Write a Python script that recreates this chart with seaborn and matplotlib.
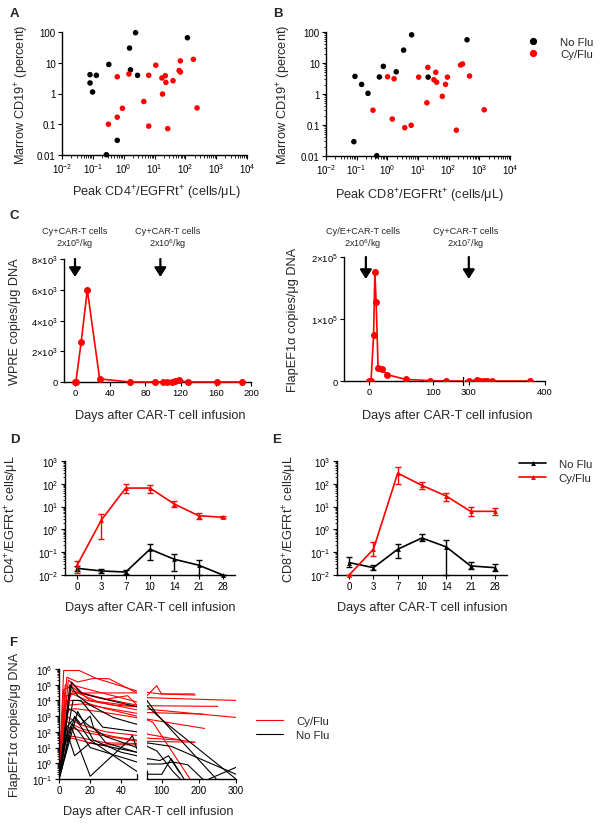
import matplotlib
matplotlib.use("Agg")
import matplotlib.pyplot as plt
from matplotlib.ticker import LogLocator, FuncFormatter, NullFormatter, FixedLocator, NullLocator
from matplotlib.lines import Line2D
import numpy as np
import pandas as pd
import seaborn as sns

sns.set_theme(style="ticks")
plt.rcParams['font.family'] = ['Liberation Sans', 'DejaVu Sans']
plt.rcParams['mathtext.default'] = 'regular'

RED = '#ff0000'
BLK = '#000000'
PAL = {'No Flu': BLK, 'Cy/Flu': RED}

# ---- panel A: peak CD4+/EGFRt+ vs marrow CD19+
a_noflu_x = [0.081, 0.081, 0.098, 0.13, 0.33, 0.62, 0.275, 1.55, 1.66, 2.43, 2.82, 117]
a_noflu_y = [4.1, 2.2, 1.12, 3.9, 8.8, 0.030, 0.0102, 30, 5.9, 95, 3.9, 65]
a_cyflu_x = [0.62, 0.32, 0.62, 0.91, 1.48, 4.5, 6.5, 6.5, 11, 17.4, 18.2, 22.4, 23.4, 26.9, 39.8, 63, 69, 69, 182, 240]
a_cyflu_y = [3.5, 0.1, 0.17, 0.33, 4.3, 0.55, 0.087, 3.9, 8.3, 3.2, 0.96, 3.8, 2.3, 0.072, 2.6, 5.6, 5.0, 11.5, 12.9, 0.34]

# ---- panel B: peak CD8+/EGFRt+ vs marrow CD19+
b_noflu_x = [0.088, 0.145, 0.234, 0.081, 0.45, 0.55, 0.74, 1.95, 3.4, 6.2, 21.4, 398]
b_noflu_y = [3.7, 2.04, 1.05, 0.029, 0.0102, 3.55, 7.8, 5.2, 26, 81, 3.5, 56]
b_cyflu_x = [0.34, 1.02, 1.66, 1.45, 3.7, 6.0, 10.5, 20.9, 19.5, 38, 33, 40.7, 62, 79, 91, 178, 245, 282, 479, 1445]
b_cyflu_y = [0.30, 3.6, 3.1, 0.156, 0.082, 0.098, 3.5, 7.2, 0.52, 5.0, 2.9, 2.4, 0.84, 2.04, 3.5, 0.068, 8.6, 9.3, 3.8, 0.31]

# ---- panel C: single patient kinetics
c1_days = [0, 1, 7, 14, 28, 63, 91, 100, 105, 110, 114, 118, 128, 161, 190]
c1_wpre = [0, 0, 2600, 6000, 200, 0, 0, 0, 0, 0, 50, 100, 0, 0, 0]
c2_days = [0, 3, 7, 9, 11, 14, 20, 28, 57, 95, 119, 300, 311, 315, 320, 324, 330, 380]
c2_flap = [0, 0, 74000, 176000, 127000, 21000, 19400, 10200, 2700, 500, 0, 0, 2000, 0, 0, 0, 0, 0]

# ---- panels D/E: mean with error range
de_days = ['0', '3', '7', '10', '14', '21', '28']
d_cy_mean = [0.027, 2.6, 65, 65, 13, 4.0, 3.4]
d_cy_lo = [0.0126, 0.37, 40, 40, 10, 2.9, 3.1]
d_cy_hi = [0.042, 4.8, 94, 92, 17, 5.2, 3.7]
d_no_mean = [0.0196, 0.015, 0.0135, 0.135, 0.049, 0.027, 0.01]
d_no_lo = [0.015, 0.0117, 0.0107, 0.046, 0.015, 0.01, 0.01]
d_no_hi = [0.025, 0.019, 0.0165, 0.22, 0.087, 0.045, 0.01]
e_cy_mean = [0.01, 0.135, 295, 85, 29, 6.2, 6.2]
e_cy_lo = [0.01, 0.069, 100, 60, 18, 4.0, 4.2]
e_cy_hi = [0.01, 0.27, 550, 118, 40, 9.3, 9.0]
e_no_mean = [0.035, 0.021, 0.135, 0.42, 0.17, 0.025, 0.021]
e_no_lo = [0.022, 0.016, 0.057, 0.30, 0.01, 0.019, 0.015]
e_no_hi = [0.062, 0.027, 0.24, 0.62, 0.34, 0.037, 0.03]

# ---- panel F: per-patient FlapEF1a kinetics (days, copies)
f_cyflu = [
    ([0, 3, 13, 24, 50, 60, 95, 190], [0.1, 8e5, 8e5, 2.5e5, 4e4, 3.3e4, 2.6e4, 2.2e4]),
    ([0, 5, 12, 22, 32, 50, 60, 300], [0.1, 3e5, 1.5e5, 2.5e5, 2.4e5, 3e4, 1.5e4, 1.0e4]),
    ([0, 6, 15, 30, 44, 50, 60, 86, 99, 188], [0.1, 2e5, 3e4, 1.2e4, 2e4, 5e3, 2e4, 8.7e4, 2.6e4, 2.6e4]),
    ([0, 4, 10, 20, 50], [0.1, 1e5, 3e4, 3e4, 3e4]),
    ([0, 3, 8, 20, 50, 60, 251], [0.1, 5e4, 8e4, 1e4, 4e3, 4.6e3, 4.2e3]),
    ([0, 5, 12, 25, 50, 60, 300], [0.1, 2e4, 3e4, 8e3, 2.5e3, 2.8e3, 830]),
    ([0, 7, 18, 35, 50, 60, 211], [0.1, 3e4, 1e4, 5e3, 4e3, 1.7e3, 1.35e3]),
    ([0, 4, 12, 30, 50, 60, 215], [0.1, 1e4, 1e4, 3e3, 1e3, 650, 165]),
    ([0, 6, 15, 50], [0.1, 5e3, 6e3, 1.5e3]),
    ([0, 3, 10, 25, 50, 60, 188], [0.1, 2e3, 3e3, 2e3, 800, 72, 21]),
    ([0, 5, 13, 30, 50, 60, 150], [0.1, 1e3, 300, 100, 60, 40, 30]),
    ([0, 4, 15, 35, 50, 60, 76, 176], [0.1, 500, 150, 50, 30, 600, 400, 0.1]),
    ([0, 6, 20, 50, 60, 190], [0.1, 200, 80, 25, 25, 22]),
    ([0, 3, 10, 30, 50], [0.1, 60, 50, 20, 18]),
    ([0, 2, 8, 25, 50], [0.1, 20, 40, 15, 15]),
    ([0, 3, 9, 20, 50], [0.1, 3e3, 4e4, 2e4, 5e3]),
    ([0, 8, 16, 50], [0.1, 1e5, 6e4, 8e3]),
]
f_noflu = [
    ([0, 8, 14, 25, 50, 60, 100, 300], [0.1, 1.5e5, 3e4, 1.5e4, 4e3, 4.6e3, 600, 0.1]),
    ([0, 7, 12, 20, 35, 50, 60, 87, 247], [0.1, 1e5, 2e4, 5e3, 800, 300, 1e4, 1.3e3, 0.1]),
    ([0, 6, 10, 18, 30, 50, 60, 87, 130, 150], [0.1, 3e3, 2e3, 300, 50, 10, 12, 6, 0.3, 0.1]),
    ([0, 10, 14, 20, 22, 30, 50], [0.1, 1e3, 300, 1e3, 200, 20, 5]),
    ([0, 5, 10, 20, 50, 60, 95, 118, 148], [0.1, 200, 800, 30, 0.3, 2, 1.5, 3, 0.25]),
    ([0, 4, 8, 13, 20, 50, 60, 125, 300], [0.1, 30, 300, 100, 10, 1.2, 20, 12, 0.2]),
    ([0, 3, 8, 20, 45, 47, 50], [0.1, 10, 200, 0.15, 30, 60, 8]),
    ([0, 2, 6, 10, 20, 50, 60, 100, 130, 170, 210], [0.1, 0.5, 50, 3, 20, 5, 0.9, 0.9, 1.2, 0.8, 0.1]),
    ([0, 9, 14, 28, 50], [0.1, 1e4, 1e4, 200, 100]),
    ([0, 12, 22, 40, 50, 62, 100, 125, 160], [0.1, 2e3, 30, 5, 3, 0.2, 0.2, 2, 0.1]),
    ([227, 300], [0.1, 0.55]),
]

W, H = 601, 828
fig = plt.figure(figsize=(W / 100, H / 100), dpi=100)


def add_ax(l, t, r, b):
    return fig.add_axes([l / W, 1 - b / H, (r - l) / W, (b - t) / H])


def style(ax, left=True):
    for s in ['top', 'right']:
        ax.spines[s].set_visible(False)
    for s in ['left', 'bottom']:
        ax.spines[s].set_color('black')
        ax.spines[s].set_linewidth(1.0)
    ax.spines['left'].set_visible(left)
    ax.tick_params(which='major', direction='out', length=3, width=0.8, color='black',
                   labelsize=7, pad=1.5, labelcolor='black')
    ax.tick_params(which='minor', direction='out', length=1.8, width=0.6, color='black')
    ax.set_facecolor('white')
    ax.grid(False)


def pow10(v, p):
    return '$10^{%d}$' % int(round(np.log10(v)))


def log_axis(axis, lo, hi, minor=True):
    axis.set_major_locator(FixedLocator([10.0 ** k for k in range(lo, hi + 1)]))
    axis.set_major_formatter(FuncFormatter(pow10))
    if minor:
        axis.set_minor_locator(LogLocator(base=10, subs=np.arange(2, 10), numticks=100))
    else:
        axis.set_minor_locator(NullLocator())
    axis.set_minor_formatter(NullFormatter())


def letter(x, y, s):
    fig.text(x / W, 1 - y / H, s, fontsize=9.5, fontweight='bold', ha='left', va='center')


LBL = 9.2
LEG = 8.2

# ---------------- A and B
for key, box, xs, ys, xl, ylx, xly in [
    ('A', (62, 33, 247, 156), (a_noflu_x, a_cyflu_x), (a_noflu_y, a_cyflu_y),
     'Peak CD4$^{+}$/EGFRt$^{+}$ (cells/μL)', -0.168, -0.228),
    ('B', (326, 33, 510, 157), (b_noflu_x, b_cyflu_x), (b_noflu_y, b_cyflu_y),
     'Peak CD8$^{+}$/EGFRt$^{+}$ (cells/μL)', -0.18, -0.242),
]:
    ax = add_ax(*box)
    style(ax)
    df = pd.DataFrame({
        'x': list(xs[0]) + list(xs[1]),
        'y': list(ys[0]) + list(ys[1]),
        'grp': ['No Flu'] * len(xs[0]) + ['Cy/Flu'] * len(xs[1]),
    })
    sns.scatterplot(data=df, x='x', y='y', hue='grp', palette=PAL, s=16, linewidth=0,
                    legend=False, ax=ax, clip_on=False, zorder=3)
    ax.set_xscale('log')
    ax.set_yscale('log')
    ax.set_xlim(1e-2, 1e4)
    ax.set_ylim(0.01, 100)
    log_axis(ax.xaxis, -2, 4)
    ax.yaxis.set_major_locator(FixedLocator([0.01, 0.1, 1, 10, 100]))
    ax.yaxis.set_major_formatter(FuncFormatter(lambda v, p: {0.01: '0.01', 0.1: '0.1', 1: '1', 10: '10', 100: '100'}.get(round(v, 2), '')))
    if key == 'B':
        ax.yaxis.set_minor_locator(LogLocator(base=10, subs=np.arange(2, 10), numticks=100))
    else:
        ax.yaxis.set_minor_locator(NullLocator())
    ax.yaxis.set_minor_formatter(NullFormatter())
    ax.set_xlabel(xl, fontsize=LBL)
    ax.set_ylabel('Marrow CD19$^{+}$ (percent)', fontsize=LBL)
    ax.xaxis.set_label_coords(0.51, xly)
    ax.yaxis.set_label_coords(ylx, 0.5)
    if key == 'B':
        hs = [Line2D([], [], marker='o', ls='', color=BLK, markersize=4.2),
              Line2D([], [], marker='o', ls='', color=RED, markersize=4.2)]
        fig.legend(hs, ['No Flu', 'Cy/Flu'], loc='upper left', bbox_to_anchor=(527 / W, 1 - 38 / H),
                   frameon=False, fontsize=LEG, handlelength=1.0, handletextpad=1.9,
                   labelspacing=0.2, borderpad=0, borderaxespad=0)

letter(10, 14, 'A')
letter(273, 14, 'B')

# ---------------- C left
ax = add_ax(64, 260, 251, 383)
style(ax)
sns.lineplot(x=c1_days, y=c1_wpre, color=RED, lw=1.2, marker='o', markersize=5,
             markeredgewidth=0, ax=ax, clip_on=False, zorder=3)
ax.set_xlim(-12.5, 200)
ax.set_ylim(0, 8000)
ax.set_xticks([0, 40, 80, 120, 160, 200])
ax.set_yticks([0, 2000, 4000, 6000, 8000])
ax.set_yticklabels(['0', '2×10$^{3}$', '4×10$^{3}$', '6×10$^{3}$', '8×10$^{3}$'])
ax.tick_params(labelsize=6.8)
ax.set_ylabel('WPRE copies/μg DNA', fontsize=LBL)
ax.yaxis.set_label_coords(-0.23, 0.5)
ax.set_xlabel('Days after CAR-T cell infusion', fontsize=LBL)
ax.xaxis.set_label_coords(0.513, -0.22)
arrow = dict(arrowstyle='-|>,head_length=0.55,head_width=0.35', lw=1.6, color='black',
             shrinkA=0, shrinkB=0, mutation_scale=10)
for xa in [0, 97]:
    ax.annotate('', xy=(xa, 6830), xytext=(xa, 8000), arrowprops=arrow, annotation_clip=False)
fig.text(75 / W, 1 - 239 / H, 'Cy+CAR-T cells\n2x10$^{5}$/kg', fontsize=6.6, ha='center', va='center', linespacing=1.05)
fig.text(168 / W, 1 - 239 / H, 'Cy+CAR-T cells\n2x10$^{6}$/kg', fontsize=6.6, ha='center', va='center', linespacing=1.05)
letter(10, 216, 'C')

# ---------------- C right (broken x axis)
axl = add_ax(344, 258, 463, 382)
axr = add_ax(465, 258, 545, 382)
style(axl)
style(axr, left=False)
for a in (axl, axr):
    sns.lineplot(x=c2_days, y=c2_flap, color=RED, lw=1.2, marker='o', markersize=5,
                 markeredgewidth=0, ax=a, zorder=3)
    a.set_ylim(0, 2e5)
    a.tick_params(labelsize=6.8)
axl.set_xlim(-39, 146)
axr.set_xlim(295, 400)
axl.set_xticks([0, 100])
axr.set_xticks([300, 400])
axl.set_yticks([0, 1e5, 2e5])
axl.set_yticklabels(['0', '1×10$^{5}$', '2×10$^{5}$'])
axr.set_yticks([])
axl.plot([1, 1], [-0.035, 0.035], transform=axl.transAxes, color='black', lw=0.9, clip_on=False)
axl.set_ylabel('FlapEF1α copies/μg DNA', fontsize=LBL)
axl.yaxis.set_label_coords(-0.378, 0.5)
fig.text(447 / W, 1 - 416 / H, 'Days after CAR-T cell infusion', fontsize=LBL, ha='center', va='center')
axl.annotate('', xy=(-5, 1.645e5), xytext=(-5, 2e5), arrowprops=arrow, annotation_clip=False)
axr.annotate('', xy=(300, 1.645e5), xytext=(300, 2e5), arrowprops=arrow, annotation_clip=False)
fig.text(363 / W, 1 - 239 / H, 'Cy/E+CAR-T cells\n2x10$^{6}$/kg', fontsize=6.6, ha='center', va='center', linespacing=1.05)
fig.text(466 / W, 1 - 239 / H, 'Cy+CAR-T cells\n2x10$^{7}$/kg', fontsize=6.6, ha='center', va='center', linespacing=1.05)

# ---------------- D and E
pos = list(range(len(de_days)))
for key, box, cy, no, yl, lx in [
    ('D', (65, 462, 235, 576), (d_cy_mean, d_cy_lo, d_cy_hi), (d_no_mean, d_no_lo, d_no_hi),
     'CD4$^{+}$/EGFRt$^{+}$ cells/μL', -0.259),
    ('E', (337, 462, 507, 576), (e_cy_mean, e_cy_lo, e_cy_hi), (e_no_mean, e_no_lo, e_no_hi),
     'CD8$^{+}$/EGFRt$^{+}$ cells/μL', -0.224),
]:
    ax = add_ax(*box)
    style(ax)
    for (m, lo, hi), col in [(no, BLK), (cy, RED)]:
        sns.lineplot(x=pos, y=m, color=col, lw=1.2, marker='^', markersize=3.5,
                     markeredgewidth=0, ax=ax, clip_on=False, zorder=3)
        ax.errorbar(pos, m, yerr=[np.array(m) - np.array(lo), np.array(hi) - np.array(m)],
                    fmt='none', ecolor=col, elinewidth=1.0, capsize=2.5, capthick=1.0,
                    clip_on=False, zorder=3)
    ax.set_yscale('log')
    ax.set_ylim(0.01, 1000)
    ax.set_xlim(-0.5, 6.5)
    log_axis(ax.yaxis, -2, 3)
    ax.set_xticks(pos)
    ax.set_xticklabels(de_days)
    ax.set_ylabel(yl, fontsize=LBL)
    ax.yaxis.set_label_coords(lx, 0.5)
    ax.set_xlabel('Days after CAR-T cell infusion', fontsize=LBL)
    ax.xaxis.set_label_coords(0.5, -0.228)

hs = [Line2D([], [], color=BLK, lw=1.2, marker='^', markersize=3.5, markeredgewidth=0),
      Line2D([], [], color=RED, lw=1.2, marker='^', markersize=3.5, markeredgewidth=0)]
fig.legend(hs, ['No Flu', 'Cy/Flu'], loc='upper left', bbox_to_anchor=(519 / W, 1 - 460 / H),
           frameon=False, fontsize=LEG, handlelength=2.4, handletextpad=1.1,
           labelspacing=0.35, borderpad=0, borderaxespad=0)
letter(10, 440, 'D')
letter(272, 440, 'E')

# ---------------- F (broken x axis)
rows = []
for grp, trajs in [('Cy/Flu', f_cyflu), ('No Flu', f_noflu)]:
    for i, (dd, vv) in enumerate(trajs):
        for d, v in zip(dd, vv):
            rows.append({'pid': grp + str(i), 'grp': grp, 'day': d, 'val': v})
fdf = pd.DataFrame(rows)

fl = add_ax(59, 670, 137, 780)
fr = add_ax(147, 670, 236, 780)
style(fl)
style(fr, left=False)
for a in (fl, fr):
    sns.lineplot(data=fdf, x='day', y='val', hue='grp', units='pid', estimator=None,
                 palette=PAL, lw=0.8, legend=False, ax=a, sort=False)
    a.set_yscale('log')
    a.set_ylim(0.1, 1e6)
    a.set_xlabel('')
    a.set_ylabel('')
fl.set_xlim(0, 50)
fr.set_xlim(60, 300)
fl.set_xticks([0, 20, 40])
fr.set_xticks([100, 200, 300])
log_axis(fl.yaxis, -1, 6)
fr.yaxis.set_major_locator(NullLocator())
fr.yaxis.set_minor_locator(NullLocator())
fl.plot([1, 1], [0, 0.05], transform=fl.transAxes, color='black', lw=0.9, clip_on=False)
fr.plot([0, 0], [0, 0.07], transform=fr.transAxes, color='black', lw=0.9, clip_on=False)
fl.set_ylabel('FlapEF1α copies/μg DNA', fontsize=LBL)
fl.yaxis.set_label_coords(-0.487, 0.5)
fig.text(148 / W, 1 - 812 / H, 'Days after CAR-T cell infusion', fontsize=LBL, ha='center', va='center')
hs = [Line2D([], [], color=RED, lw=0.8), Line2D([], [], color=BLK, lw=0.8)]
fig.legend(hs, ['Cy/Flu', 'No Flu'], loc='upper left', bbox_to_anchor=(256 / W, 1 - 717 / H),
           frameon=False, fontsize=LEG, handlelength=2.35, handletextpad=1.2,
           labelspacing=0.35, borderpad=0, borderaxespad=0)
letter(9, 643, 'F')

fig.savefig('out.png', dpi=100, facecolor='white')
